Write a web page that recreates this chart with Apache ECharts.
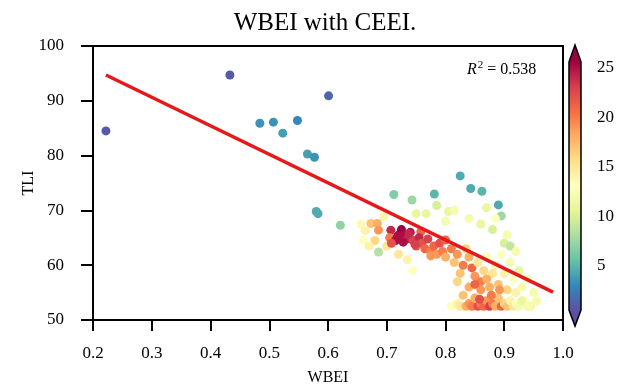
<!DOCTYPE html>
<html>
<head>
<meta charset="utf-8">
<script src="https://cdn.jsdelivr.net/npm/echarts@6/dist/echarts.min.js"></script>
<style>html,body{margin:0;padding:0;background:#fff}#c{width:624px;height:388px}</style>
</head>
<body>
<div id="c"></div>
<script>
// ---- data ----
const wbei = [
 0.222,0.433,0.601,0.484,0.507,0.523,0.548,0.565,0.577,0.580,0.583,0.621,
 0.712,0.743,0.781,0.785,0.750,0.767,0.805,0.825,0.843,0.862,0.890,0.895,0.870,0.815,0.800,0.840,0.860,0.880,0.900,0.910,0.920,0.905,0.885,
 0.656,0.663,0.673,0.684,0.686,0.695,0.707,0.720,0.758,0.680,0.686,0.700,0.705,0.715,0.725,0.730,0.735,0.740,0.745,0.750,0.755,0.760,0.765,0.770,0.775,0.780,0.785,0.790,0.795,0.800,0.800,0.810,0.815,0.820,0.825,0.830,0.835,0.840,0.845,0.850,0.855,0.860,0.865,0.870,0.875,0.880,0.885,0.890,0.895,0.900,0.905,0.910,0.915,0.920,0.925,0.930,0.935,0.940,0.945,0.950,
 0.744,0.735,0.720,0.660,0.670,0.775,0.718,0.728,0.738,0.748,0.708,
 0.810,0.820,0.825,0.830,0.835,0.840,0.845,0.850,0.855,0.860,0.865,0.870,0.875,0.880,0.885,0.890,0.895,0.900,0.905,0.910,0.915,0.920,0.925,0.930,0.940,0.955,
 0.860,0.870,0.840,0.820,0.850,0.878,0.892,0.858
];
const tli = [
 84.5,94.7,90.9,85.9,86.1,84.1,86.4,80.3,79.7,69.8,69.4,67.3,
 72.9,71.9,73.0,70.9,69.4,69.4,69.8,76.3,74.0,73.5,71.0,69.0,70.5,70.0,68.0,68.5,67.5,66.5,64.0,63.5,62.5,65.5,68.5,
 67.5,66.3,67.6,67.6,66.4,68.9,66.4,65.5,66.1,64.5,62.4,63.5,65.0,64.5,66.5,65.5,64.8,66.0,64.5,63.5,65.0,64.0,63.0,64.8,62.5,63.5,62.0,64.0,62.5,64.6,61.5,63.0,60.5,62.0,58.5,60.0,63.0,61.5,59.5,58.0,60.5,57.0,59.0,61.5,56.0,58.5,60.0,56.5,62.0,58.5,55.5,60.5,57.5,55.0,59.0,56.0,53.5,57.5,52.5,55.0,
 59.1,61.0,62.0,64.5,63.5,61.7,65.2,64.2,65.8,63.8,64.0,
 52.5,53.0,52.5,54.5,52.5,53.0,52.5,54.0,52.5,53.0,52.5,53.5,52.5,53.0,52.5,54.0,52.5,53.0,52.5,53.5,52.5,53.0,52.5,53.5,52.5,53.5,
 55.5,57.5,56.0,57.0,56.5,54.5,55.5,53.8
];
const ceei = [
 1,1,1.5,3.5,3.5,4,3,4,3.5,4.5,4.5,7,
 6.5,7.5,5,10,11,11,11,4.5,4.5,5,4.5,7.5,11,12,12,12,11,10,10,9,12,12,13,
 13.5,14,17,18,19,14,24,25,21,16,8.5,15,20,25,26,25,24,25,23,22,24,22,21,23,20,21,19,22,20,21,18,20,17,19,17,20,16,18,21,19,15,20,16,13,18,15,14,17,13,14,16,12,13,14,11,12,13,12,14,12,
 13,14,15,13,14,19,25,25,24,23,22,
 13,14,15,17,18,19,20,18,22,20,21,19,23,20,18,17,21,16,17,14,15,13,12,11,12,12,
 19,18,18,16,21,20,19,22
];
const lineX = [0.222, 0.983];
const lineY = [94.7, 55.1];
const cbTicks = [5,10,15,20,25];
const cbMin = 0.5, cbMax = 25.6;
const r2Text = '0.538';

// ---- chart ----
const spectralR = ['#5e4fa2','#3288bd','#66c2a5','#abdda4','#e6f598','#ffffbf','#fee08b','#fdae61','#f46d43','#d53e4f','#9e0142'];
const serif = "'Liberation Serif','Times New Roman',serif";
const points = wbei.map((x,i)=>[x, tli[i], ceei[i]]);

const chart = echarts.init(document.getElementById('c'), null, {renderer:'canvas'});
const gTop = 45, gBot = 326, bTop = 62, bBot = 310;
const span = gBot - gTop;
const stops = [{offset:0,color:spectralR[10]},{offset:(bTop-gTop)/span,color:spectralR[10]}];
for (let i=0;i<11;i++) stops.push({offset:(bTop-gTop)/span + (i/10)*((bBot-bTop)/span), color:spectralR[10-i]});
stops.push({offset:1,color:spectralR[0]});

chart.setOption({
  animation:false,
  title:{text:'WBEI with CEEI.', left:320, top:6, textAlign:'center',
    textStyle:{fontFamily:serif,fontSize:25,fontWeight:'normal',color:'#000'}},
  grid:[
    {left:93, right:61, top:46, bottom:68, show:true, borderColor:'#000', borderWidth:2, backgroundColor:'transparent', containLabel:false, outerBoundsMode:'none'},
    {left:569, width:12, top:bTop, height:bBot-bTop, show:false, containLabel:false, outerBoundsMode:'none'}
  ],
  xAxis:[
    {type:'value', gridIndex:0, min:0.2, max:1.0, interval:0.1,
     name:'WBEI', nameLocation:'middle', nameGap:50,
     nameTextStyle:{fontFamily:serif,fontSize:16,color:'#000'},
     axisLine:{show:true,lineStyle:{color:'#000',width:2}},
     axisTick:{show:true,length:11,lineStyle:{color:'#000',width:2}},
     axisLabel:{fontFamily:serif,fontSize:17,color:'#000',margin:25,formatter:v=>v.toFixed(1)},
     splitLine:{show:false}},
    {type:'value', gridIndex:1, show:false, min:0, max:1}
  ],
  yAxis:[
    {type:'value', gridIndex:0, min:50, max:100, interval:10,
     name:'TLI', nameLocation:'middle', nameGap:56, nameRotate:90, nameMoveOverlap:false,
     nameTextStyle:{fontFamily:serif,fontSize:16,color:'#000'},
     axisLine:{show:true,lineStyle:{color:'#000',width:2}},
     axisTick:{show:true,length:12,lineStyle:{color:'#000',width:2}},
     axisLabel:{fontFamily:serif,fontSize:17,color:'#000',margin:29},
     splitLine:{show:false}},
    {type:'value', gridIndex:1, position:'right', min:cbMin, max:cbMax,
     axisLine:{show:false},
     axisTick:{show:true,length:10,lineStyle:{color:'#000',width:2},customValues:cbTicks},
     axisLabel:{fontFamily:serif,fontSize:17,color:'#000',margin:16,customValues:cbTicks},
     splitLine:{show:false}}
  ],
  visualMap:{show:false, type:'continuous', seriesIndex:0, dimension:2, min:cbMin, max:cbMax,
    inRange:{color:spectralR}},
  series:[
    {type:'scatter', xAxisIndex:0, yAxisIndex:0, data:points, symbolSize:9,
     itemStyle:{opacity:1}, z:2},
    {type:'line', xAxisIndex:0, yAxisIndex:0, data:lineX.map((x,i)=>[x,lineY[i]]),
     symbol:'none', lineStyle:{color:'#e3191c',width:3.5}, z:3}
  ],
  graphic:[
    {type:'polygon', z:10,
     shape:{points:[[569,bTop],[575,gTop],[581,bTop],[581,bBot],[575,gBot],[569,bBot]]},
     style:{fill:{type:'linear',x:0,y:0,x2:0,y2:1,colorStops:stops}, stroke:'#000', lineWidth:1.5}},
    {type:'text', z:10, left:467, top:60,
     style:{text:'{i|R}{s|2}{n| = '+r2Text+'}', fill:'#000',
       rich:{i:{fontFamily:serif,fontStyle:'italic',fontSize:16,fill:'#000'},
             s:{fontFamily:serif,fontSize:11,fill:'#000',padding:[0,0,8,1]},
             n:{fontFamily:serif,fontSize:16,fill:'#000'}}}}
  ]
});
</script>
</body>
</html>
